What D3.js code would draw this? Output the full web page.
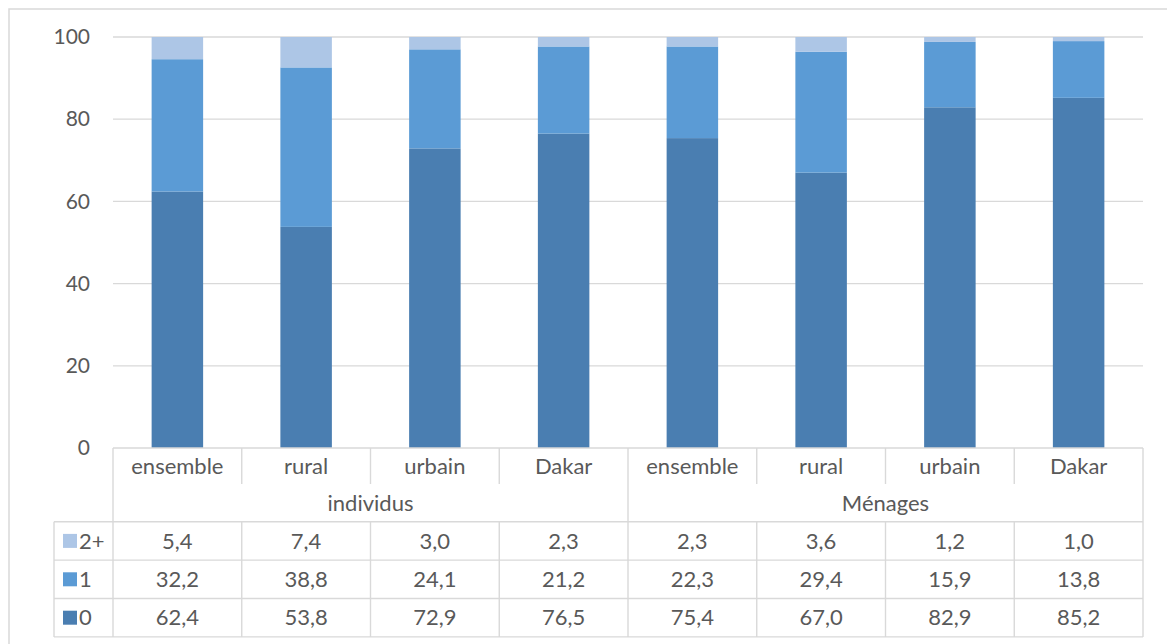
<!DOCTYPE html>
<html>
<head>
<meta charset="utf-8">
<script src="https://cdn.jsdelivr.net/npm/d3@7"></script>
<style>
  html, body { margin: 0; padding: 0; background: #fff; }
  svg { display: block; }
  text { font-family: Lato, "Open Sans", sans-serif; fill: #595959; }
</style>
</head>
<body>
<svg id="chart" width="1167" height="644"></svg>
<script>
// Categories and groups
const groups = ["individus", "Ménages"];
const places = ["ensemble", "rural", "urbain", "Dakar"];
const seriesNames = ["0", "1", "2+"];

// Share (%) by number of items, per group and place
const values0   = [62.4, 53.8, 72.9, 76.5, 75.4, 67.0, 82.9, 85.2];
const values1   = [32.2, 38.8, 24.1, 21.2, 22.3, 29.4, 15.9, 13.8];
const values2p  = [5.4, 7.4, 3.0, 2.3, 2.3, 3.6, 1.2, 1.0];

const yTicks = [0, 20, 40, 60, 80, 100];
const colors = ["#4a7eb1", "#5b9bd5", "#adc6e6"];

// Build rows
const keys = [];
groups.forEach(g => places.forEach(p => keys.push(g + "|" + p)));
const rows = keys.map((k, i) => ({ key: k, group: k.split("|")[0], place: k.split("|")[1],
  "0": values0[i], "1": values1[i], "2+": values2p[i] }));
const seriesValues = { "0": values0, "1": values1, "2+": values2p };

const svg = d3.select("#chart");
const plotLeft = 113, plotRight = 1143, plotTop = 37, plotBottom = 448;
const lineColor = "#d9d9d9";
const fmt = v => d3.format(".1f")(v).replace(".", ",");

// Outer chart border
svg.append("rect").attr("x", 9).attr("y", 9).attr("width", 1170).attr("height", 650)
  .attr("fill", "none").attr("stroke", lineColor).attr("stroke-width", 1.5);

const x = d3.scaleBand().domain(keys).range([plotLeft, plotRight]).paddingInner(0.6).paddingOuter(0.3);
const y = d3.scaleLinear().domain([0, 100]).range([plotBottom, plotTop]);

// Gridlines
svg.append("g").selectAll("line").data(yTicks.filter(t => t > 0)).join("line")
  .attr("x1", plotLeft).attr("x2", plotRight)
  .attr("y1", d => y(d)).attr("y2", d => y(d))
  .attr("stroke", lineColor).attr("stroke-width", 1.3);

// Y axis labels
const yAxis = svg.append("g").attr("transform", `translate(${plotLeft},0)`)
  .call(d3.axisLeft(y).tickValues(yTicks).tickSize(0).tickPadding(23).tickFormat(d3.format("d")));
yAxis.select(".domain").remove();
yAxis.selectAll("text").style("font-family", "Lato, sans-serif").attr("font-size", 21).attr("fill", "#595959");

// Stacked bars
const stack = d3.stack().keys(seriesNames);
const layers = stack(rows);
svg.append("g").selectAll("g").data(layers).join("g")
  .attr("fill", (d, i) => colors[i])
  .selectAll("rect").data(d => d).join("rect")
  .attr("x", d => x(d.data.key))
  .attr("width", x.bandwidth())
  .attr("y", d => y(d[1]))
  .attr("height", d => y(d[0]) - y(d[1]));

// Data table below the plot
const step = x.step();
const catRowBottom = 484;
const groupRowBottom = 521.7;
const rowH = 38.4;
const legendLeft = 54;
const tableBottom = groupRowBottom + rowH * 3;
const tbl = svg.append("g").attr("stroke", lineColor).attr("stroke-width", 1.4);

// horizontal rules
tbl.append("line").attr("x1", plotLeft).attr("x2", plotRight).attr("y1", plotBottom).attr("y2", plotBottom);
[0, 1, 2, 3].forEach(i => {
  const yy = groupRowBottom + rowH * i;
  tbl.append("line").attr("x1", legendLeft).attr("x2", plotRight).attr("y1", yy).attr("y2", yy);
});
// vertical rules
const bounds = d3.range(keys.length + 1).map(i => plotLeft + i * step);
bounds.forEach((bx, i) => {
  const full = (i === 0 || i === keys.length || i === places.length);
  tbl.append("line").attr("x1", bx).attr("x2", bx)
    .attr("y1", plotBottom).attr("y2", full ? tableBottom : catRowBottom);
  if (!full) {
    tbl.append("line").attr("x1", bx).attr("x2", bx).attr("y1", groupRowBottom).attr("y2", tableBottom);
  }
});
tbl.append("line").attr("x1", legendLeft).attr("x2", legendLeft).attr("y1", groupRowBottom).attr("y2", tableBottom);

const fontSize = 22;
// place labels
svg.append("g").selectAll("text").data(rows).join("text")
  .attr("x", d => x(d.key) + x.bandwidth() / 2)
  .attr("y", (plotBottom + catRowBottom) / 2)
  .attr("dy", "0.35em").attr("text-anchor", "middle").attr("font-size", fontSize)
  .text(d => d.place);
// group labels
svg.append("g").selectAll("text").data(groups).join("text")
  .attr("x", (d, i) => plotLeft + step * places.length * (i + 0.5))
  .attr("y", (catRowBottom + groupRowBottom) / 2)
  .attr("dy", "0.35em").attr("text-anchor", "middle").attr("font-size", fontSize)
  .text(d => d);

// value rows with legend keys (top row is the last series)
const tableOrder = ["2+", "1", "0"];
tableOrder.forEach((s, r) => {
  const cy = groupRowBottom + rowH * (r + 0.5);
  const ci = seriesNames.indexOf(s);
  svg.append("rect").attr("x", 63).attr("y", cy - 7).attr("width", 14).attr("height", 14)
    .attr("fill", colors[ci]);
  svg.append("text").attr("x", 79).attr("y", cy).attr("dy", "0.35em")
    .attr("font-size", fontSize).text(s);
  svg.append("g").selectAll("text").data(seriesValues[s]).join("text")
    .attr("x", (d, i) => x(keys[i]) + x.bandwidth() / 2)
    .attr("y", cy).attr("dy", "0.35em").attr("text-anchor", "middle")
    .attr("font-size", fontSize)
    .text(d => fmt(d));
});
</script>
</body>
</html>
